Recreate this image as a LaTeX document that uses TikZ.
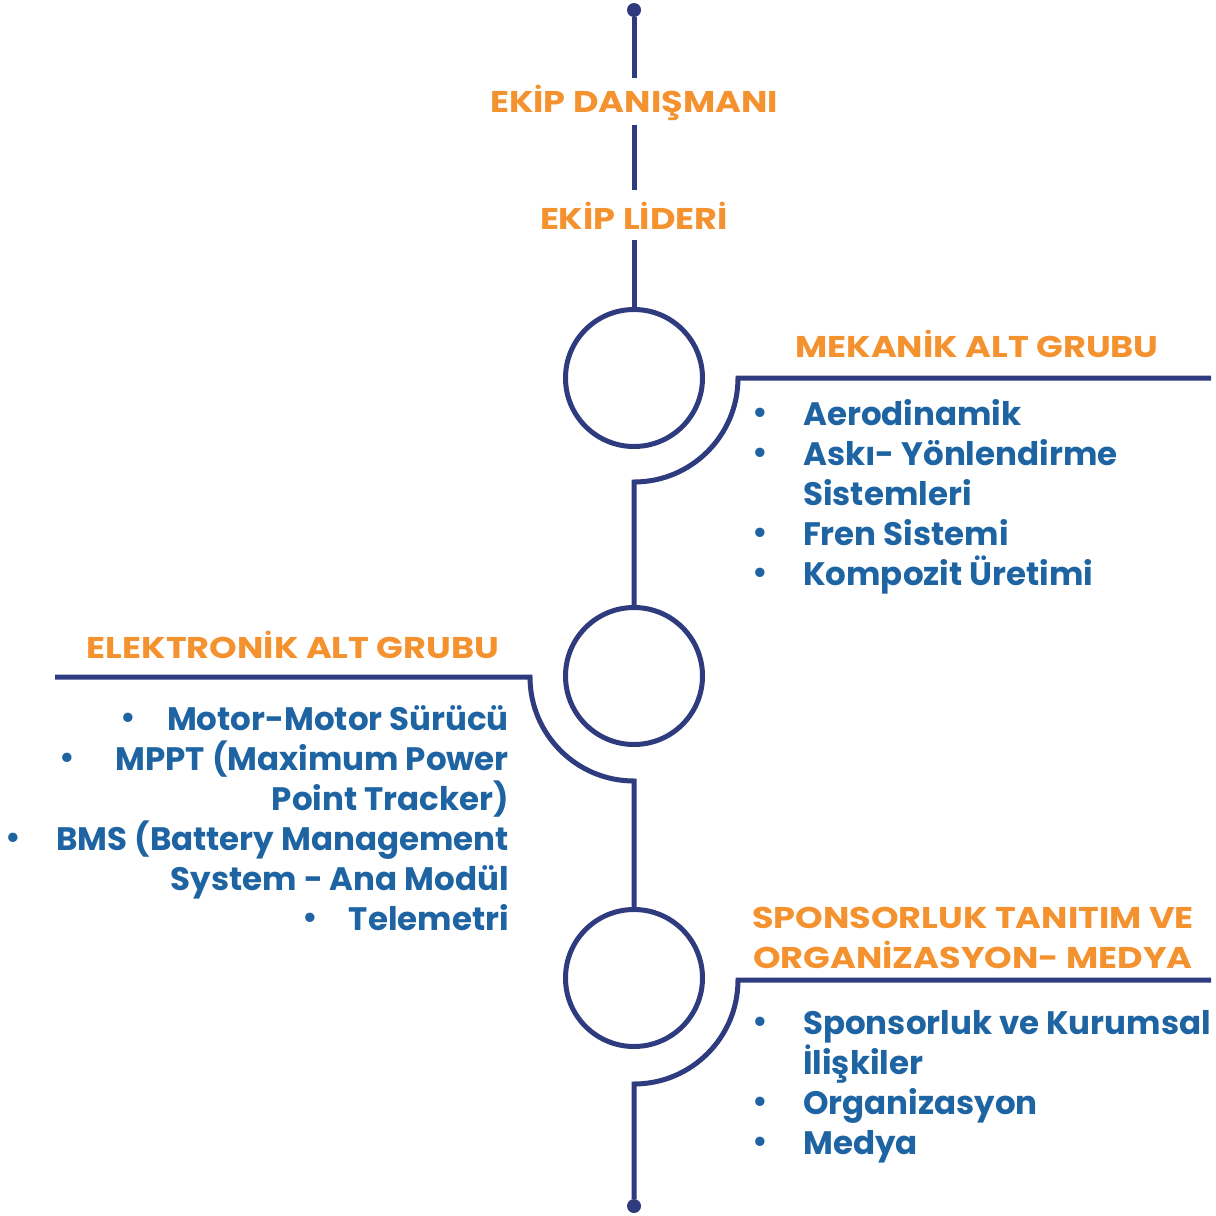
\documentclass[tikz,border=0pt]{standalone}
\usepackage{fontspec}
\setmainfont{Poppins}
\newfontfamily\headfont[FakeStretch=1.17]{Poppins}
\usetikzlibrary{calc}
\definecolor{navy}{HTML}{2E3B7E}
\definecolor{orng}{HTML}{F4922F}
\definecolor{blu}{HTML}{1F64A2}
\begin{document}
\begin{tikzpicture}[x=1pt,y=-1pt,
  spine/.style={draw=navy,line width=5pt},
  hub/.style={circle,draw=navy,line width=5pt,minimum size=137pt,inner sep=0pt},
  enddot/.style={circle,fill=navy,minimum size=14pt,inner sep=0pt},
  head/.style={text=orng,font=\headfont\bfseries\fontsize{30}{40}\selectfont,anchor=base,align=center,inner sep=0pt},
  item/.style={text=blu,font=\bfseries\fontsize{32.5}{40}\selectfont,anchor=base west,align=left,inner sep=0pt},
  itemr/.style={text=blu,font=\bfseries\fontsize{32.5}{40}\selectfont,anchor=base east,align=right,inner sep=0pt},
  bul/.style={text=blu,font=\fontsize{38}{38}\selectfont,anchor=base,inner sep=0pt}]
\useasboundingbox (0,0) rectangle (1216,1216);

% spine nodes
\node[enddot] (top) at (634,10) {};
\node[enddot] (bot) at (634,1206) {};
\node[head] (t1) at (634,112) {EKİP DANIŞMANI};
\node[head] (t2) at (634,229) {EKİP LİDERİ};
\node[hub] (c1) at (634,378) {};
\node[hub] (c2) at (634,676) {};
\node[hub] (c3) at (634,978) {};

\draw[spine] (top) -- ($(t1.base)+(0,-34)$);
\draw[spine] ($(t1.base)+(0,13)$) -- ($(t2.base)+(0,-39)$);
\draw[spine] ($(t2.base)+(0,11)$) -- (c1);
\draw[spine] (1211,378) -- ($(c1)+(104,0)$) arc[start angle=0,end angle=90,radius=104] -- (c2);
\draw[spine] (55,677) -- ($(c2)+(-104,1)$) arc[start angle=180,end angle=90,radius=104] -- (c3);
\draw[spine] (1211,980) -- ($(c3)+(104,2)$) arc[start angle=0,end angle=90,radius=104] -- (bot);

% mekanik
\node[head] (h1) at (977,357) {MEKANİK ALT GRUBU};
\node[item] (a1) at (803,425) {Aerodinamik};
\node[item] (a2) at (803,505) {Askı- Yönlendirme\\Sistemleri};
\node[item] (a3) at (803,545) {Fren Sistemi};
\node[item] (a4) at (803,585) {Kompozit Üretimi};
\foreach \y in {425,465,545,585} \node[bul] at (760,\y) {•};

% elektronik
\node[head] (h2) at (293,658) {ELEKTRONİK ALT GRUBU};
\node[itemr] (e1) at (509,730) {Motor-Motor Sürücü};
\node[itemr] (e2) at (509,810) {MPPT (Maximum Power\\Point Tracker)};
\node[itemr] (e3) at (509,890) {BMS (Battery Management\\System - Ana Modül};
\node[itemr] (e4) at (509,930) {Telemetri};
\node[bul] at (128,730) {•};
\node[bul] at (67,770) {•};
\node[bul] at (13,850) {•};
\node[bul] at (310,930) {•};

% sponsorluk
\node[head] (h3) at (973,968) {SPONSORLUK TANITIM VE\\ORGANİZASYON- MEDYA};
\node[item] (s1) at (803,1074) {Sponsorluk ve Kurumsal\\İlişkiler};
\node[item] (s2) at (803,1114) {Organizasyon};
\node[item] (s3) at (803,1154) {Medya};
\foreach \y in {1034,1114,1154} \node[bul] at (760,\y) {•};
\end{tikzpicture}
\end{document}
